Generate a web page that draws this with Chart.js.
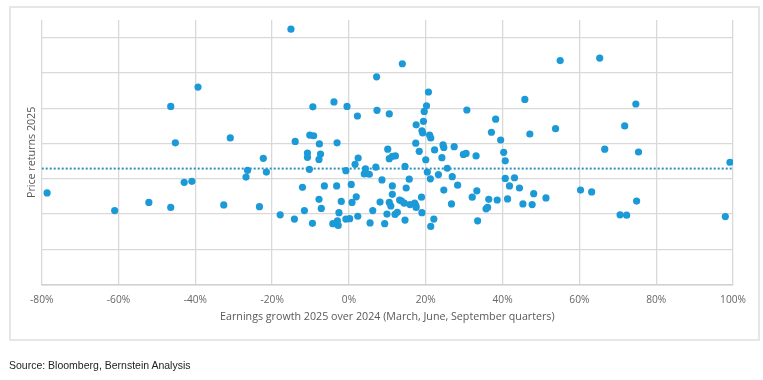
<!DOCTYPE html>
<html>
<head>
<meta charset="utf-8">
<script src="https://cdn.jsdelivr.net/npm/chart.js@4"></script>
<style>
  html, body { margin: 0; padding: 0; background: #fff; }
  #wrap { position: relative; width: 763px; height: 380px; }
  #frame { position: absolute; left: 9px; top: 6px; width: 747px; height: 331px; border: 2px solid #e6e6e6; }
  #c { position: absolute; left: 0; top: 0; }
  #src { position: absolute; left: 9px; top: 359px; font-family: "Liberation Sans", Arial, sans-serif; font-size: 10.5px; color: #222; }
</style>
</head>
<body>
<div id="wrap">
  <div id="frame"></div>
  <canvas id="c" width="763" height="380"></canvas>
  <div id="src">Source: Bloomberg, Bernstein Analysis</div>
</div>
<script>
// Earnings growth 2025 over 2024 (%)
const earningsGrowth = [
  -78.6,-61.0,-52.1,-46.4,-46.4,-45.2,-42.9,-40.9,-39.3,-32.6,
  -30.9,-26.8,-26.4,-23.3,-22.3,-21.5,-17.9,-15.1,-14.2,-14.0,
  -12.1,-11.6,-10.8,-10.8,-10.2,-9.2,-10.3,-9.5,-9.4,-7.8,
  -7.2,-7.7,-7.4,-7.8,-6.4,-3.9,-3.1,-3.2,-4.2,-3.0,
  -2.8,-2.6,-2.0,-0.8,-0.8,0.2,-0.5,0.6,0.8,1.9,
  1.6,2.4,2.2,2.3,4.3,4.0,5.3,5.5,6.2,7.0,
  7.2,7.3,8.1,8.6,9.3,9.9,10.1,10.5,10.5,11.3,
  12.1,10.5,10.9,11.3,11.3,12.0,12.6,13.2,13.7,14.4,
  13.9,14.6,14.6,14.9,15.7,15.9,17.1,17.4,17.5,17.4,
  17.5,18.3,18.9,19.0,19.0,19.2,19.4,19.6,20.2,20.7,
  20.0,20.4,21.2,21.0,21.3,21.3,22.1,22.3,23.3,24.2,
  24.5,24.7,24.7,25.6,26.7,26.9,27.4,28.3,29.8,30.5,
  30.7,32.1,33.1,33.3,33.5,35.7,36.1,36.4,37.1,38.2,
  38.6,39.5,40.3,40.7,40.7,41.3,41.8,43.1,44.4,45.3,
  45.8,47.1,47.7,48.1,51.3,53.8,55.0,60.3,63.2,65.3,
  66.6,70.6,71.8,72.3,74.7,74.9,75.4,98.0,99.2
];
// Price returns 2025 (axis unlabelled; units = gridline steps)
const priceReturns = [
  2.60,2.10,2.33,2.19,5.05,4.02,2.90,2.93,5.60,2.26,
  4.16,3.05,3.24,2.21,3.58,3.19,1.98,7.24,1.86,4.06,
  2.76,2.10,3.73,3.61,4.24,4.22,3.27,1.74,5.04,2.42,
  2.16,3.99,3.70,3.55,2.80,5.18,4.02,2.80,1.73,1.81,
  1.68,2.04,2.36,3.23,1.86,1.87,5.05,2.84,2.33,2.49,
  3.41,3.59,4.78,1.94,3.28,3.14,3.13,1.75,2.10,3.33,
  5.89,4.94,2.34,2.97,1.73,2.00,3.84,4.84,3.57,3.64,
  3.65,2.33,2.23,2.56,2.80,1.99,2.05,2.40,2.37,2.31,
  6.26,1.83,3.35,2.74,2.99,2.27,2.31,2.25,2.19,4.01,
  4.53,3.78,2.48,2.04,4.36,4.30,4.63,4.91,5.07,5.46,
  3.54,3.19,3.00,4.24,4.16,1.65,1.86,3.82,3.12,3.60,
  3.96,3.89,2.68,3.30,2.29,3.06,3.91,2.82,3.69,3.72,
  4.95,2.48,3.65,2.66,1.81,2.15,2.19,2.42,4.32,4.69,
  2.40,4.10,3.75,3.51,3.01,2.43,2.80,3.03,2.74,2.29,
  5.25,4.27,2.27,2.58,2.46,4.42,6.35,2.68,2.63,6.42,
  3.84,1.98,4.50,1.97,5.12,2.37,3.76,1.93,3.47
];
const averageReturn = 3.29;
const xTicks = [-80, -60, -40, -20, 0, 20, 40, 60, 80, 100];
const xTitle = "Earnings growth 2025 over 2024 (March, June, September quarters)";
const yTitle = "Price returns 2025";

const points = earningsGrowth.map((x, i) => ({ x: x, y: priceReturns[i] }));
const avgLine = [
  { x: xTicks[0], y: averageReturn },
  { x: xTicks[xTicks.length - 1], y: averageReturn }
];

const gridColor = '#d9d9d9';

new Chart(document.getElementById('c'), {
  type: 'scatter',
  data: {
    datasets: [
      {
        type: 'line',
        data: avgLine,
        borderColor: '#2e8fb9',
        borderWidth: 2,
        borderDash: [2, 2],
        pointRadius: 0,
        fill: false,
        order: 2
      },
      {
        data: points,
        backgroundColor: '#1c9ad8',
        borderColor: '#1c9ad8',
        borderWidth: 0,
        pointRadius: 3.6,
        order: 1
      }
    ]
  },
  options: {
    responsive: false,
    animation: false,
    events: [],
    layout: { padding: { left: 25, top: 20, right: 30, bottom: 53.3 } },
    plugins: { legend: { display: false }, tooltip: { enabled: false } },
    scales: {
      x: {
        type: 'linear',
        min: -80, max: 100,
        afterBuildTicks: (s) => { s.ticks = xTicks.map(v => ({ value: v })); },
        afterFit: (s) => { s.height = 42; },
        grid: { color: gridColor, lineWidth: 1.3, drawTicks: false },
        border: { color: '#d0d0d0', width: 1.5 },
        ticks: {
          padding: 9,
          color: '#666',
          font: { family: "'Open Sans', sans-serif", size: 10.2 },
          callback: (v) => v + '%'
        },
        title: {
          display: true,
          text: xTitle,
          color: '#595959',
          font: { family: "'Open Sans', sans-serif", size: 10.7 },
          padding: { top: 0, bottom: 3 }
        }
      },
      y: {
        type: 'linear',
        min: 0, max: 7.5,
        afterBuildTicks: (s) => { s.ticks = [0,1,2,3,4,5,6,7].map(v => ({ value: v })); },
        afterFit: (s) => { s.width = 16.7; },
        grid: { color: gridColor, lineWidth: 1.3, drawTicks: false },
        border: { display: false },
        ticks: { display: false },
        title: {
          display: true,
          text: yTitle,
          color: '#595959',
          font: { family: "'Open Sans', sans-serif", size: 10.7 },
          padding: { top: 1, bottom: 0 }
        }
      }
    }
  }
});
</script>
</body>
</html>
